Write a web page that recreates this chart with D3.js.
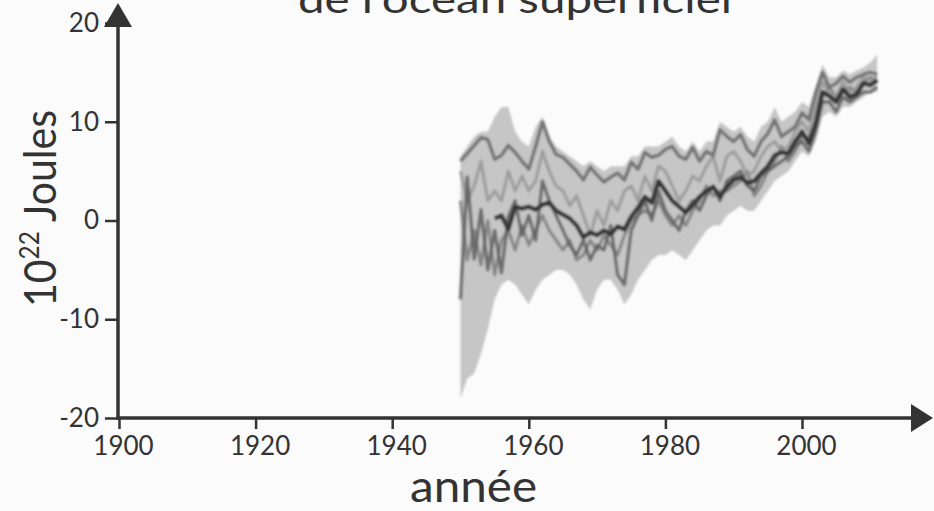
<!DOCTYPE html>
<html>
<head>
<meta charset="utf-8">
<script src="https://cdn.jsdelivr.net/npm/d3@7"></script>
<style>
  html, body { margin: 0; padding: 0; background: #fbfbfb; }
  svg { display: block; }
</style>
</head>
<body>
<svg id="chart" width="934" height="511"></svg>
<script>
// Ocean heat content anomaly (10^22 J), annual values 1950-2011
const years = d3.range(1950, 2012);

// Uncertainty envelope
const bandLow = [-18, -16, -15.5, -13.5, -11, -8, -6.5, -6, -6.5, -7.5,
  -8.5, -7, -6, -5.5, -5, -5, -5.5, -6.5, -8, -9,
  -7, -6, -6, -7, -8.5, -7.5, -6, -5, -4, -3.5,
  -3.5, -3, -3.5, -4, -3, -2, -1, -0.5, -0.5, 0.5,
  1, 1.5, 1, 1, 2, 3, 4, 4.5, 5, 6,
  7, 6.5, 8, 10.5, 11, 10.5, 11.5, 11.5, 12, 12.5,
  13, 13];
const bandHigh = [6.5, 7.5, 8.5, 9, 9, 10.5, 11.5, 11.5, 9, 8,
  7.5, 9.5, 10.5, 8.5, 7.5, 7, 6.5, 6, 5.5, 6,
  5.5, 5, 5.5, 5.5, 5.5, 6.5, 6.5, 7.5, 7.5, 7.5,
  8, 8.5, 7.5, 7, 8, 7, 8, 8, 10, 9.5,
  9, 9.5, 8.5, 8, 9.5, 10, 11.5, 10, 10.5, 11,
  12, 11.5, 13.5, 15.8, 14.5, 14.5, 15.2, 14.8, 15.2, 15.5,
  16, 16.8];

// Individual estimates, 1950-2011
const seriesUpper = [6.0, 6.8, 7.6, 8.4, 8.2, 6.2, 6.6, 7.6, 6.9, 6.0,
  5.2, 7.5, 10.0, 8.0, 6.7, 6.4, 5.7, 5.0, 4.1, 5.4,
  4.6, 3.9, 4.4, 4.8, 4.1, 5.9, 5.2, 6.9, 6.4, 6.6,
  7.2, 7.5, 6.5, 6.2, 7.4, 6.0, 7.0, 6.6, 9.2, 8.5,
  8.0, 8.7, 7.2, 6.5, 8.0, 8.8, 10.2, 8.5, 9.0, 9.5,
  10.9, 10.2, 12.9, 15.0, 13.5, 13.9, 14.6, 14.0, 14.5, 14.8,
  15.0, 14.8];
const seriesMid = [5.0, 2.0, 3.5, 6.0, 2.0, 3.0, 2.0, 5.0, 3.0, 4.5,
  3.0, 4.0, 7.0, 5.0, 3.5, 3.0, 1.5, 2.5, 0.5, -1.5,
  1.0, -0.5, 2.0, 1.0, 3.0, 3.5, 2.0, 4.5, 3.0, 5.5,
  5.0, 3.5, 2.0, 3.0, 4.5, 4.0, 5.5, 6.5, 4.0, 6.5,
  7.0, 6.0, 4.5, 5.0, 6.5, 7.5, 8.0, 7.0, 7.5, 9.0,
  10.0, 9.0, 11.5, 14.0, 13.0, 12.5, 14.0, 13.0, 13.5, 14.5,
  14.2, 14.5];
const seriesLowA = [-8.0, 4.4, -3.9, 1.1, -5.0, -1.0, -5.3, 0.4, 2.0, -1.5,
  0.5, -2.0, 4.0, 2.0, 0.5, -1.0, -2.5, -3.5, -2.0, -4.0,
  -2.5, -3.0, -0.5, -5.5, -6.5, -1.0, 0.5, 2.0, 0.0, 3.0,
  1.0, 0.0, -1.0, 1.0, 2.0, 1.0, 2.5, 3.5, 2.0, 4.0,
  4.5, 5.0, 3.5, 3.0, 4.5, 5.0, 5.5, 6.0, 6.5, 7.5,
  8.0, 7.0, 9.0, 12.0, 12.0, 11.0, 12.5, 12.0, 12.5, 13.0,
  13.0, 13.5];
const seriesLowB = [2.0, -4.0, -1.0, -4.5, 0.0, -5.5, -2.0, -1.0, -3.0, -0.5,
  -2.5, -1.0, 0.5, -1.0, -2.0, -3.0, -2.0, -4.0, -3.5, -2.0,
  -3.0, -1.5, -2.5, -3.5, -1.5, 0.0, 0.5, 1.0, 0.5, 2.0,
  0.5, -0.5, 0.5, -0.5, 1.0, 2.0, 3.5, 2.5, 3.0, 3.0,
  3.5, 4.0, 5.0, 2.5, 3.5, 5.0, 6.0, 7.5, 6.0, 7.0,
  8.5, 8.5, 10.0, 12.5, 13.5, 12.5, 13.0, 13.5, 13.0, 14.0,
  14.5, 14.0];

// Multi-estimate reference series, 1955-2011
const mainYears = d3.range(1955, 2012);
const seriesMain = [0.2, 0.5, -0.9, 1.4, 1.2, 1.4, 1.1, 1.6, 1.8, 1.0,
  0.6, 0.2, -0.5, -1.7, -1.2, -1.5, -1.0, -1.4, -0.6, -0.9,
  0.4, 1.3, 2.4, 1.8, 4.0, 3.0, 2.0, 1.4, 0.8, 1.6,
  2.4, 3.0, 3.4, 2.4, 3.4, 4.1, 4.4, 3.8, 4.0, 4.8,
  5.5, 6.6, 6.9, 6.8, 8.0, 9.0, 7.8, 9.8, 13.0, 12.6,
  12.0, 13.3, 12.5, 12.8, 13.9, 13.7, 14.2];

const yTicks = [-20, -10, 0, 10, 20];
const xTicks = [1900, 1920, 1940, 1960, 1980, 2000];

const titleText = "de l'océan superficiel";
const xLabel = "année";

const svg = d3.select("#chart");
const ink = "#333";
const font = "Lato, 'Open Sans', sans-serif";

const x = d3.scaleLinear().domain([1900, 2000]).range([119, 802]);
const y = d3.scaleLinear().domain([-20, 20]).range([418, 23]);

// soft rendering of the data traces
const defs = svg.append("defs");
defs.append("filter").attr("id", "soft")
  .attr("x", "-5%").attr("y", "-5%").attr("width", "110%").attr("height", "110%")
  .append("feGaussianBlur").attr("stdDeviation", 1.3);

const data = svg.append("g").attr("filter", "url(#soft)");

const area = d3.area()
  .x((d, i) => x(years[i]))
  .y0((d, i) => y(bandLow[i]))
  .y1((d, i) => y(bandHigh[i]));
data.append("path").datum(bandLow).attr("d", area)
  .attr("fill", "#c6c6c6");

const lineFor = yrs => d3.line().x((d, i) => x(yrs[i])).y(d => y(d));

const traces = [
  { v: seriesLowB, c: "#7c7c7c", w: 3.2, o: 0.85 },
  { v: seriesMid, c: "#979797", w: 3.2, o: 0.85 },
  { v: seriesLowA, c: "#5e5e5e", w: 3.4, o: 0.85 },
  { v: seriesUpper, c: "#727272", w: 3.6, o: 0.95 }
];
traces.forEach(t => {
  data.append("path").datum(t.v).attr("d", lineFor(years))
    .attr("fill", "none").attr("stroke", t.c).attr("stroke-width", t.w)
    .attr("stroke-opacity", t.o).attr("stroke-linejoin", "round");
});
data.append("path").datum(seriesMain).attr("d", lineFor(mainYears))
  .attr("fill", "none").attr("stroke", "#383838").attr("stroke-width", 4.4)
  .attr("stroke-linejoin", "round");

// plain hyphen for negative tick values
const fmt = d => String(d);

// y axis
const yAxis = svg.append("g").attr("transform", `translate(${x(1900) - 1},0)`)
  .call(d3.axisLeft(y).tickValues(yTicks).tickSize(13).tickPadding(6)
    .tickFormat(fmt));
yAxis.select(".domain").remove();
yAxis.selectAll(".tick line").attr("stroke", ink).attr("stroke-width", 2.5);
yAxis.selectAll(".tick text").attr("font-family", font).attr("font-size", 26)
  .attr("fill", ink);

// x axis
const xAxis = svg.append("g").attr("transform", `translate(0,${y(-20)})`)
  .call(d3.axisBottom(x).tickValues(xTicks).tickSize(11).tickPadding(8)
    .tickFormat(fmt));
xAxis.select(".domain").remove();
xAxis.selectAll(".tick line").attr("stroke", ink).attr("stroke-width", 2.5);
xAxis.selectAll(".tick text").attr("font-family", font).attr("font-size", 26)
  .attr("fill", ink).attr("dx", 4);

// axis lines with arrowheads
const x0 = x(1900) - 1, y0 = y(-20);
svg.append("line").attr("x1", x0).attr("y1", y0 + 1.5).attr("x2", x0).attr("y2", 20)
  .attr("stroke", ink).attr("stroke-width", 3.5);
svg.append("path").attr("d", `M${x0},3 L${x0 - 14},27 L${x0 + 14},27 Z`).attr("fill", ink);
svg.append("line").attr("x1", x0 - 1.5).attr("y1", y0).attr("x2", 915).attr("y2", y0)
  .attr("stroke", ink).attr("stroke-width", 3.5);
svg.append("path").attr("d", `M933,${y0} L911,${y0 - 14} L911,${y0 + 14} Z`).attr("fill", ink);

// title, running off the top edge
svg.append("text").attr("x", 298).attr("y", 13)
  .attr("font-family", font).attr("font-size", 38).attr("fill", ink)
  .attr("textLength", 434).attr("lengthAdjust", "spacingAndGlyphs")
  .text(titleText);

// y label
const yl = svg.append("text")
  .attr("transform", "translate(56,307) rotate(-90)")
  .attr("font-family", font).attr("font-size", 44).attr("fill", ink)
  .attr("textLength", 197).attr("lengthAdjust", "spacingAndGlyphs");
yl.append("tspan").text("10");
yl.append("tspan").attr("font-size", 26).attr("dy", -17).text("22");
yl.append("tspan").attr("dy", 17).text(" Joules");

// x label
svg.append("text").attr("x", 410).attr("y", 502)
  .attr("font-family", font).attr("font-size", 44).attr("fill", ink)
  .attr("textLength", 127).attr("lengthAdjust", "spacingAndGlyphs")
  .text(xLabel);
</script>
</body>
</html>
